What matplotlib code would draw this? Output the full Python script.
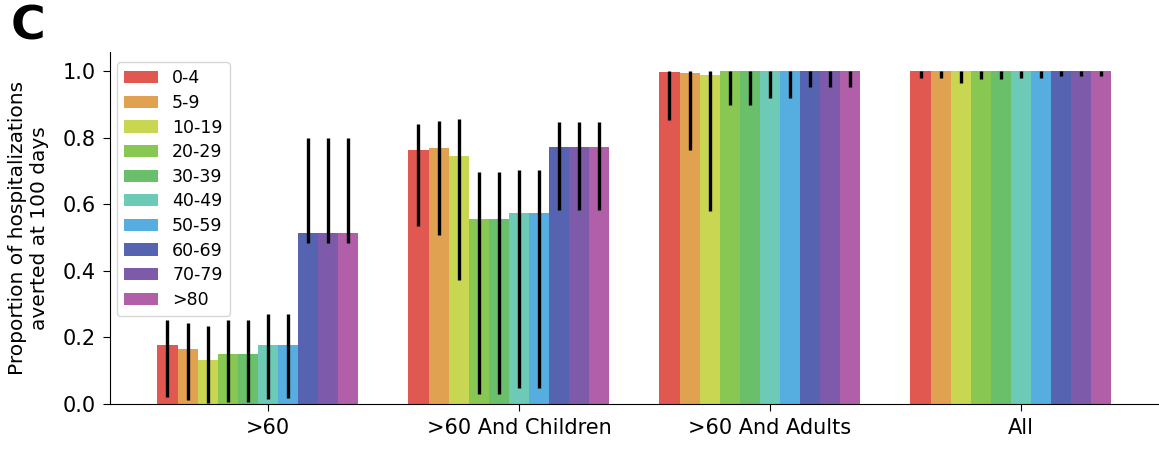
import numpy as np
import matplotlib.pyplot as plt

groups = [">60", ">60 And Children", ">60 And Adults", "All"]
age_bands = ["0-4", "5-9", "10-19", "20-29", "30-39", "40-49", "50-59", "60-69", "70-79", ">80"]
colors = ["#e0584f", "#e0a150", "#c9d652", "#88c852", "#6abf6b", "#6dcab6",
          "#55aedf", "#5563b0", "#7e5aab", "#b05fa8"]

# rows = groups, columns = age bands
averted = np.array([
    [0.177, 0.165, 0.132, 0.149, 0.149, 0.176, 0.176, 0.514, 0.514, 0.514],
    [0.763, 0.770, 0.746, 0.555, 0.555, 0.575, 0.575, 0.773, 0.773, 0.773],
    [0.996, 0.994, 0.988, 1.000, 1.000, 1.000, 1.000, 1.000, 1.000, 1.000],
    [1.000, 1.000, 1.000, 1.000, 1.000, 1.000, 1.000, 1.000, 1.000, 1.000],
])
lower = np.array([
    [0.022, 0.012, 0.004, 0.007, 0.007, 0.015, 0.017, 0.483, 0.483, 0.483],
    [0.535, 0.508, 0.372, 0.030, 0.030, 0.047, 0.047, 0.583, 0.583, 0.583],
    [0.853, 0.763, 0.580, 0.898, 0.898, 0.918, 0.918, 0.953, 0.953, 0.953],
    [0.978, 0.978, 0.965, 0.975, 0.975, 0.978, 0.978, 0.985, 0.985, 0.985],
])
upper = np.array([
    [0.252, 0.244, 0.234, 0.252, 0.252, 0.269, 0.269, 0.800, 0.800, 0.800],
    [0.841, 0.851, 0.857, 0.698, 0.698, 0.703, 0.703, 0.848, 0.848, 0.848],
    [1.000, 1.000, 1.000, 1.000, 1.000, 1.000, 1.000, 1.000, 1.000, 1.000],
    [1.000, 1.000, 1.000, 1.000, 1.000, 1.000, 1.000, 1.000, 1.000, 1.000],
])

fig = plt.figure(figsize=(11.59, 4.55), dpi=100)
ax = fig.add_axes([0.0949, 0.1121, 0.9042, 0.7736])

x = np.arange(len(groups))
width = 0.08
for i, band in enumerate(age_bands):
    pos = x + (i - 5) * width
    vals = averted[:, i]
    ax.bar(pos, vals, width, color=colors[i], label=band)
    yerr = np.vstack([vals - lower[:, i], upper[:, i] - vals])
    ax.errorbar(pos, vals, yerr=yerr, fmt='none', ecolor='black', elinewidth=2.4, capsize=0)

ax.set_xticks(x)
ax.set_xticklabels(groups, fontsize=15)
ax.set_xlim(-0.629, 3.546)
ax.set_ylim(0, 1.057)
ticks = np.arange(0, 1.01, 0.2)
ax.set_yticks(ticks)
ax.set_yticklabels([f"{v:.1f}" for v in ticks], fontsize=15)
ax.tick_params(axis='both', length=5, pad=5)
ax.set_ylabel("Proportion of hospitalizations\naverted at 100 days", fontsize=14.5, labelpad=10)
ax.spines['top'].set_visible(False)
ax.spines['right'].set_visible(False)
ax.legend(loc='upper left', fontsize=12.5, labelspacing=0.38, bbox_to_anchor=(-0.002, 0.995))

fig.text(0.009, 0.99, "C", fontsize=34, fontweight='bold', va='top', ha='left')

fig.savefig("out.png", dpi=100)
